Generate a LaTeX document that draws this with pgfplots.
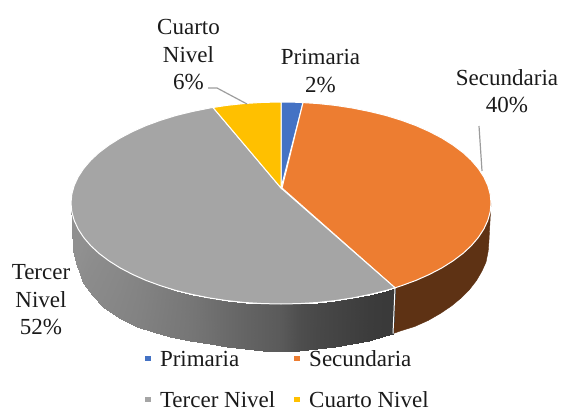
\documentclass[border=0pt]{standalone}
\usepackage{fontspec}
\setmainfont{Liberation Serif}
\usepackage{pgfplots}
\pgfplotsset{compat=1.18}
\definecolor{cblue}{HTML}{4472C4}
\definecolor{corange}{HTML}{ED7D31}
\definecolor{cgray}{HTML}{A5A5A5}
\definecolor{cyellow}{HTML}{FFC000}
\definecolor{txt}{HTML}{1A1A1A}
\definecolor{lead}{HTML}{9C9C9C}
\definecolor{sideo}{HTML}{5E3214}
\begin{document}
\begin{tikzpicture}[x=1pt,y=1pt]
\path[use as bounding box] (0,0) rectangle (561,409);
\begin{axis}[
  at={(0,0)},anchor=south west,
  width=561pt,height=409pt,scale only axis,
  xmin=0,xmax=561,ymin=0,ymax=409,y dir=reverse,
  hide axis,clip=false,
  colormap={greys}{gray(0cm)=(0); gray(255cm)=(1)},
  point meta min=0,point meta max=255,
  legend columns=2,
  legend cell align=left,
  legend image code/.code={\fill[#1] (0pt,-3pt) rectangle (6.5pt,3.5pt);},
  legend style={draw=none,fill=none,at={(axis cs:144,351)},anchor=north west,
    font=\fontsize{23}{25}\selectfont,text=txt,inner sep=0pt,outer sep=0pt,
    row sep=25pt,
    /tikz/every odd column/.append style={column sep=8.5pt},
    /tikz/every even column/.append style={column sep=18pt},
    nodes={inner sep=0pt,text depth=0pt}},
]
% side: orange
\addplot[forget plot,fill=sideo,draw=sideo] coordinates {(491,203)(490.2,211.8)(487.8,220.5)(483.8,229.1)(478.3,237.5)(471.3,245.7)(462.9,253.5)(453,260.9)(441.9,267.9)(429.5,274.4)(416,280.4)(401.5,285.7)(395,287.8)
 (393,333.6)(400.3,331)(414.7,326.5)(428.1,320.5)(440.3,313.5)(451.4,306)(461.1,298)(469.5,289.5)(476.5,280.5)(482,271)(486,262)(488.2,251)(489,240)} -- cycle;
% side: grey, darkening to the right
\addplot[forget plot,surf,shader=interp,mesh/ordering=x varies,mesh/cols=24,point meta=explicit] table[meta=c] {
x y c
395 287.8 58
386 290.5 58
369.7 294.5 60
352.8 297.9 64
335.4 300.6 68
317.5 302.5 72
299.3 303.6 78
281 304 90
262.7 303.6 95
244.5 302.5 100
226.6 300.6 106
209.2 297.9 112
192.3 294.5 118
176 290.5 122
160.5 285.7 126
146 280.4 130
132.5 274.4 133
120.1 267.9 136
109 260.9 138
99.1 253.5 140
90.7 245.7 142
83.7 237.5 144
74.2 220.5 144
71 203 144
393 333.6 58
385 336 58
368.9 340.6 60
352.1 344.3 64
334.8 347.2 68
317.1 349.3 72
299.1 350.6 78
281 351 90
262.9 350.6 95
244.9 349.3 100
227.2 347.2 106
209.9 344.3 112
190 340.5 118
170 336.7 122
153 332 126
136.5 326.5 130
119 317.5 133
103 306.5 136
92 295 138
83.5 283 140
79.5 274 142
76 263 144
73.5 250 144
73 240 144
};
\addplot[forget plot,white,line width=1pt] coordinates {(395,288)(393,333.6)};
% top faces
\addplot[fill=cblue,draw=white,line width=1pt] coordinates {(281,188)(281,102)(292,102.1)(303,102.6)} -- cycle;
\addplot[fill=corange,draw=white,line width=1pt] coordinates {(282,188)(303,102.6)(317.5,103.5)(335.4,105.4)(352.8,108.1)(369.7,111.5)(386,115.5)(401.5,120.3)(416,125.6)(429.5,131.6)(441.9,138.1)(453,145.1)(462.9,152.5)(471.3,160.3)(478.3,168.5)(483.8,176.9)(487.8,185.5)(490.2,194.2)(491,203)(490.2,211.8)(487.8,220.5)(483.8,229.1)(478.3,237.5)(471.3,245.7)(462.9,253.5)(453,260.9)(441.9,267.9)(429.5,274.4)(416,280.4)(401.5,285.7)(395,287.8)} -- cycle;
\addplot[fill=cgray,draw=white,line width=1pt] coordinates {(281,188)(395,287.8)(386,290.5)(369.7,294.5)(352.8,297.9)(335.4,300.6)(317.5,302.5)(299.3,303.6)(281,304)(262.7,303.6)(244.5,302.5)(226.6,300.6)(209.2,297.9)(192.3,294.5)(176,290.5)(160.5,285.7)(146,280.4)(132.5,274.4)(120.1,267.9)(109,260.9)(99.1,253.5)(90.7,245.7)(83.7,237.5)(78.2,229.1)(74.2,220.5)(71.8,211.8)(71,203)(71.8,194.2)(74.2,185.5)(78.2,176.9)(83.7,168.5)(90.7,160.3)(99.1,152.5)(109,145.1)(120.1,138.1)(132.5,131.6)(146,125.6)(160.5,120.3)(176,115.5)(192.3,111.5)(209.2,108.1)(213,107.5)} -- cycle;
\addplot[fill=cyellow,draw=white,line width=1pt] coordinates {(281,188)(213,107.5)(226.6,105.4)(244.5,103.5)(262.7,102.4)(281,102)} -- cycle;
\legend{Primaria,Secundaria,Tercer Nivel,Cuarto Nivel}
% leader lines
\addplot[forget plot,lead,line width=1.2pt] coordinates {(208,88)(217,88)(247,104)};
\addplot[forget plot,lead,line width=1.2pt] coordinates {(479,126)(482,171)};
% labels
\begin{scope}[every node/.style={align=center,text=txt,inner sep=0pt,font=\fontsize{23}{27.5}\selectfont}]
\node at (axis cs:188.5,55) {Cuarto\\Nivel\\6\%};
\node at (axis cs:320.5,71) {Primaria\\2\%};
\node at (axis cs:507,91) {Secundaria\\40\%};
\node at (axis cs:41,300) {Tercer\\Nivel\\52\%};
\end{scope}
\end{axis}
\end{tikzpicture}
\end{document}
